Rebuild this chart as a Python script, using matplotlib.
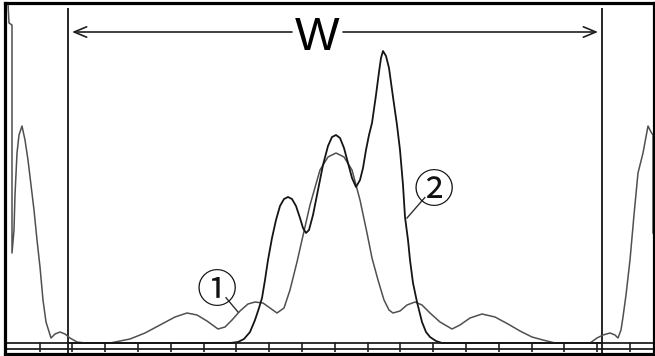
"""Intensity profile of two curves across the window W."""
from __future__ import annotations

import matplotlib
matplotlib.use("Agg")
import matplotlib.pyplot as plt
import numpy as np

# curve 1 (thin grey): position / relative intensity
CURVE1_X = [110, 115, 130, 145, 160, 175, 187, 197, 207, 218, 225, 232, 240, 248,
            255, 263, 270, 277, 284, 290, 297, 302, 310, 320, 328, 336, 344, 352,
            360, 367, 372, 378, 384, 389, 393, 400, 407, 415, 422, 430, 440, 452,
            460, 470, 482, 495, 508, 520, 532, 543, 555]
CURVE1_Y = [0, 1, 4, 10, 18, 26, 30, 28, 22, 14, 16, 23, 32, 39,
            41, 40, 35, 30, 35, 53, 81, 103, 138, 173, 186, 190, 186, 173,
            143, 110, 85, 63, 43, 33, 30, 32, 38, 41, 38, 30, 21, 14,
            18, 25, 29, 26, 19, 12, 6, 3, 0]

# neighbouring orders of curve 1 cut by the frame
EDGE_LEFT_X = [8, 9, 12, 12, 14, 15, 17, 19, 22, 25, 28, 31, 34, 37, 40, 43, 46,
               51, 55, 60, 65, 70, 77, 85]
EDGE_LEFT_Y = [340, 320, 318, 90, 113, 148, 190, 208, 217, 203, 183, 158, 133,
               103, 76, 43, 21, 5, 9, 11, 9, 5, 1, 0]
EDGE_RIGHT_X = [590, 597, 603, 610, 615, 618, 621, 623, 626, 630, 634, 638, 643,
                648, 651, 653, 653]
EDGE_RIGHT_Y = [0, 5, 8, 10, 8, 5, 13, 26, 48, 83, 128, 170, 190, 217, 211, 208, 110]

# curve 2 (dark)
CURVE2_X = [70, 230, 238, 244, 250, 255, 259, 262, 265, 268, 272, 276, 280, 284,
            288, 292, 296, 300, 303, 306, 309, 313, 318, 323, 328, 332, 336, 340,
            344, 348, 352, 356, 360, 363, 366, 369, 372, 376, 379, 381, 383, 386,
            389, 393, 397, 400, 403, 405, 408, 410, 413, 417, 422, 426, 430, 436,
            442, 600]
CURVE2_Y = [0, 0, 1, 4, 11, 23, 35, 45, 63, 83, 105, 123, 137, 144,
            146, 144, 137, 125, 115, 110, 113, 128, 153, 178, 197, 206, 208, 205,
            195, 180, 165, 156, 163, 175, 193, 208, 220, 248, 271, 285, 292, 287,
            275, 246, 218, 193, 158, 126, 103, 83, 60, 41, 21, 11, 6, 2,
            0, 0]

WINDOW = [68, 602]
TICKS = np.arange(39.5, 640, 32.8)


def main() -> None:
    fig = plt.figure(figsize=(6.55, 3.56), dpi=100)
    ax = fig.add_axes([4.5 / 655, 2.5 / 356, 649 / 655, 350.5 / 356])
    ax.set_xlim(4.5, 653.5)
    ax.set_ylim(-10.5, 340)
    ax.set_xticks([])
    ax.set_yticks([])
    for sp in ax.spines.values():
        sp.set_linewidth(2.3)
        sp.set_color("black")

    # double base line with ticks
    ax.axhline(0, color="#303030", lw=1.4)
    ax.axhline(-5.5, color="#303030", lw=1.4)
    ax.vlines(TICKS, -9, 1, color="#202020", lw=1.2)

    # window edges
    ax.vlines(WINDOW, -11, 335, color="#151515", lw=1.3)

    # curves
    ax.plot(CURVE1_X, CURVE1_Y, color="#505050", lw=1.1)
    ax.plot(EDGE_LEFT_X, EDGE_LEFT_Y, color="#505050", lw=1.1)
    ax.plot(EDGE_RIGHT_X, EDGE_RIGHT_Y, color="#505050", lw=1.1)
    ax.plot(CURVE2_X, CURVE2_Y, color="#151515", lw=1.3)

    # W dimension arrow, with a gap for the letter
    arrow_y = 311
    head = dict(arrowstyle="->,head_length=0.6,head_width=0.25", lw=1.2,
                color="#202020", shrinkA=0, shrinkB=0, mutation_scale=15)
    ax.annotate("", xy=(WINDOW[0] + 4, arrow_y), xytext=(292, arrow_y), arrowprops=head)
    ax.annotate("", xy=(WINDOW[1] - 4, arrow_y), xytext=(343, arrow_y), arrowprops=head)
    ax.text(317.5, 293, "W", family="Liberation Sans", fontsize=34,
            ha="center", va="baseline", color="black")

    # circled curve labels with leader lines
    labels = [("①", (217, 56), (238, 31)), ("②", (434, 156), (407, 125))]
    for txt, (cx, cy), (tx, ty) in labels:
        ax.text(cx, cy, txt, family=["Noto Sans CJK JP", "DejaVu Sans"],
                fontsize=29, ha="center", va="center_baseline", color="#111111")
        d = np.array([tx - cx, ty - cy], dtype=float)
        d /= np.hypot(*d)
        sx, sy = cx + 14 * d[0], cy + 14 * d[1]
        ax.plot([sx, tx], [sy, ty], color="#303030", lw=1.0)

    fig.savefig("out.png", dpi=100, facecolor="white")
    plt.close(fig)


if __name__ == "__main__":
    main()
